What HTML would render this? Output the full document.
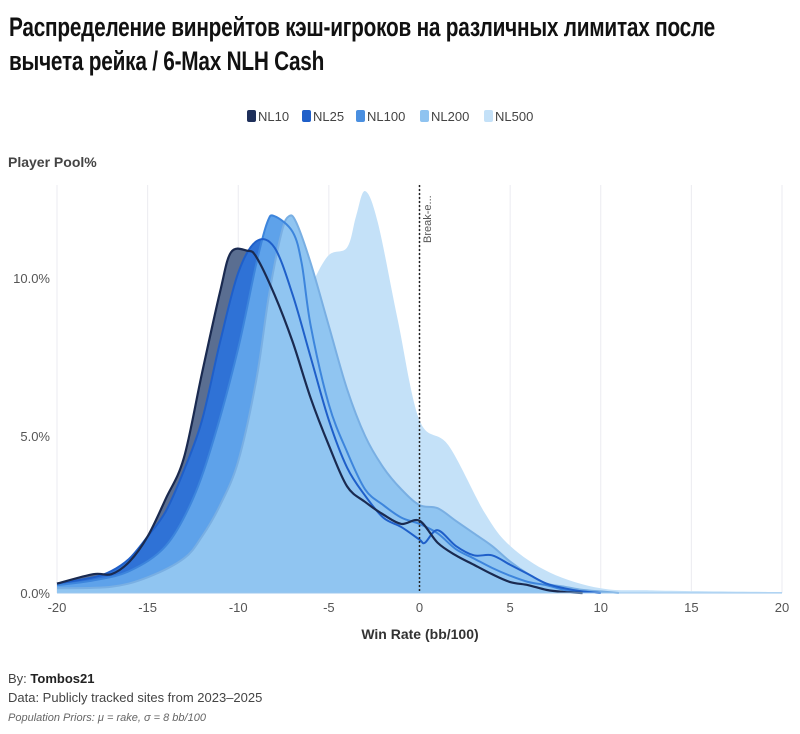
<!DOCTYPE html>
<html><head><meta charset="utf-8"><style>
body{margin:0;background:#fff;width:800px;height:734px;overflow:hidden;font-family:"Liberation Sans",sans-serif}
.t{position:absolute;left:9px;font-family:"Liberation Sans Narrow","Liberation Sans",sans-serif;font-weight:bold;font-size:27px;color:#111;transform-origin:0 0;transform:scaleX(0.77);white-space:nowrap;letter-spacing:-0.3px}
</style></head><body>
<div class="t" style="top:12px">Распределение винрейтов кэш-игроков на различных лимитах после</div>
<div class="t" style="top:46px">вычета рейка / 6-Max NLH Cash</div>
<svg width="800" height="734" style="position:absolute;left:0;top:0" id="s" font-family="Liberation Sans, sans-serif">
<g font-size="13" fill="#444">
<rect x="247" y="110" width="9" height="12" rx="2" fill="#1e2f5a"/><text x="258" y="121">NL10</text>
<rect x="302" y="110" width="9" height="12" rx="2" fill="#1f5fc9"/><text x="313" y="121">NL25</text>
<rect x="356" y="110" width="9" height="12" rx="2" fill="#4a8fe0"/><text x="367" y="121">NL100</text>
<rect x="420" y="110" width="9" height="12" rx="2" fill="#8fc3f0"/><text x="431" y="121">NL200</text>
<rect x="484" y="110" width="9" height="12" rx="2" fill="#c4e1f8"/><text x="495" y="121">NL500</text>
</g>
<text x="8" y="167" font-size="14" font-weight="bold" fill="#444">Player Pool%</text>
<g stroke="#ebebf0" stroke-width="1" id="grid"></g>
<g id="areas"></g>
<line x1="419.5" y1="185" x2="419.5" y2="593" stroke="#222" stroke-width="1.5" stroke-dasharray="2,2"/>
<text transform="translate(431,243) rotate(-90)" font-size="11" fill="#555">Break-e...</text>
<g font-size="13" fill="#555" id="lab">
<text x="50" y="283" text-anchor="end">10.0%</text>
<text x="50" y="441" text-anchor="end">5.0%</text>
<text x="50" y="598" text-anchor="end">0.0%</text>
</g>
<text x="420" y="639" font-size="14" font-weight="bold" fill="#333" text-anchor="middle">Win Rate (bb/100)</text>
<text x="8" y="683" font-size="13" fill="#444">By: <tspan font-weight="bold" fill="#222">Tombos21</tspan></text>
<text x="8" y="702" font-size="13" fill="#444">Data: Publicly tracked sites from 2023–2025</text>
<text x="8" y="721" font-size="11" font-style="italic" fill="#666">Population Priors: μ = rake, σ = 8 bb/100</text>
</svg>
<script>
var X=function(b){return 57+(b+20)*18.125},Y=function(p){return 593-p*31.4};
var ns="http://www.w3.org/2000/svg",s=document.getElementById('s');
var g=document.getElementById('grid'),lab=document.getElementById('lab');
for(var b=-20;b<=20;b+=5){var l=document.createElementNS(ns,'line');l.setAttribute('x1',X(b));l.setAttribute('x2',X(b));l.setAttribute('y1',185);l.setAttribute('y2',593);g.appendChild(l);
var t=document.createElementNS(ns,'text');t.setAttribute('x',X(b));t.setAttribute('y',612);t.setAttribute('text-anchor','middle');t.textContent=b;lab.appendChild(t);}
var D={
NL500:[[-20,.1],[-18,.1],[-17,0],[-16,.1],[-14,.25],[-12,.5],[-11.3,.85],[-10,2],[-9,3.6],[-8,5.8],[-7.4,7.3],[-6.3,9.3],[-5.1,10.7],[-4,11],[-3.5,12],[-3,12.8],[-2.3,11.8],[-1.2,8.7],[0,5.5],[1.6,4.7],[3.6,2.55],[5,1.5],[7.2,.65],[10,.15],[13,.08],[20,.03]],
NL10:[[-20,.3],[-18,.6],[-17,.6],[-16,1],[-15,1.8],[-14,3],[-13,4.3],[-12,7],[-11,9.6],[-10.4,10.85],[-9.5,10.9],[-9,10.7],[-8,9.5],[-7,8],[-6,6.2],[-5,4.7],[-4,3.4],[-3,2.9],[-2,2.5],[-1,2.2],[0,2.3],[1,1.6],[2,1.2],[3,.9],[4,.6],[5,.35],[6,.25],[7,.1],[8,.03],[9,0]],
NL25:[[-20,.3],[-18,.5],[-17,.7],[-16,1.1],[-15,1.8],[-14,2.6],[-13,3.9],[-12,5.5],[-11,8],[-10,10.2],[-9,11.2],[-8,11],[-7,9.5],[-6,7.5],[-5,5.5],[-4,4],[-3,3.1],[-2,2.4],[-1,2.1],[0,1.7],[.3,1.6],[1,2],[2,1.5],[3,1.2],[4,1.2],[5,.9],[6,.6],[7,.3],[8,.15],[9,.05],[10,0]],
NL100:[[-20,.25],[-18,.4],[-16,.7],[-14,1.5],[-12.5,3],[-11.3,5],[-10,7.8],[-9,10.5],[-8.4,11.8],[-8,12],[-7,11.5],[-6.5,10.5],[-6,8.5],[-5,6],[-4,4.5],[-3,3.3],[-2,2.8],[-1,2.4],[0,2.2],[1,1.9],[2,1.4],[3,1.1],[4,.8],[5,.55],[6,.35],[7,.25],[8,.1],[9,.05],[10,0]],
NL200:[[-20,.15],[-17,.2],[-15,.5],[-13,1.1],[-12,1.8],[-11,2.8],[-10,4.2],[-9,6.8],[-8.3,9.5],[-7.6,11.5],[-7.2,12],[-6.8,11.8],[-6,10.5],[-5,8.5],[-4,6.5],[-3,5],[-2,4],[-1,3.3],[0,2.8],[1,2.7],[2,2.3],[3,1.9],[4,1.5],[5,1],[6,.6],[7,.3],[8,.2],[9,.1],[10,.05],[11,0]]};
function path(p){var q=p.map(function(a){return[X(a[0]),Y(a[1])]});var d='M'+q[0][0]+','+q[0][1];
for(var i=0;i<q.length-1;i++){var p0=q[i-1]||q[i],p1=q[i],p2=q[i+1],p3=q[i+2]||p2;
d+='C'+(p1[0]+(p2[0]-p0[0])/6)+','+(p1[1]+(p2[1]-p0[1])/6)+' '+(p2[0]-(p3[0]-p1[0])/6)+','+(p2[1]-(p3[1]-p1[1])/6)+' '+p2[0]+','+p2[1];}
return {d:d,last:q[q.length-1]};}
var A=document.getElementById('areas');
function add(n,fill){var r=path(D[n]);var f=document.createElementNS(ns,'path');
f.setAttribute('d',r.d+'L'+X(20)+','+r.last[1]+'L'+X(20)+','+Y(0)+'L'+X(-20)+','+Y(0)+'Z');f.setAttribute('fill',fill);A.appendChild(f);return r.d;}
var lines=[];
add('NL500','#c4e1f8');
lines.push([add('NL10','#5a6e91'),'#1a2a50',2.2]);
lines.push([add('NL25','#2f72d6'),'#1f5fc9',2]);
lines.push([add('NL100','#5ea2ea'),'#3d85dc',2]);
lines.push([add('NL200','#90c5f1'),'#79afe3',2]);
lines.reverse().forEach(function(l){var p=document.createElementNS(ns,'path');p.setAttribute('d',l[0]);p.setAttribute('fill','none');p.setAttribute('stroke',l[1]);p.setAttribute('stroke-width',l[2]);A.appendChild(p);});
var ax=document.createElementNS(ns,'line');ax.setAttribute('x1',57);ax.setAttribute('x2',782);ax.setAttribute('y1',593);ax.setAttribute('y2',593);ax.setAttribute('stroke','#9cc7ee');A.appendChild(ax);
</script>
</body></html>
